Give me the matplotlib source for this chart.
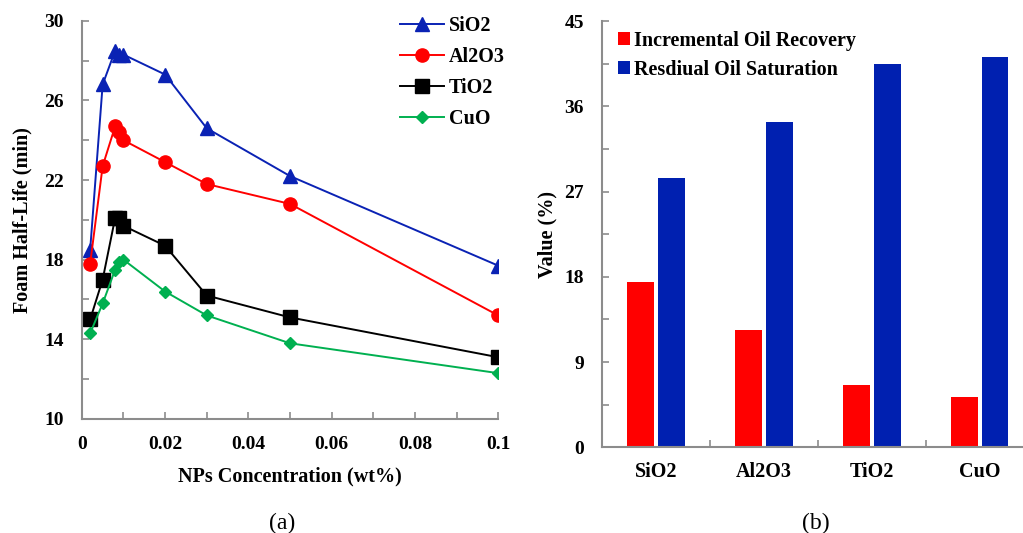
import numpy as np
import matplotlib.pyplot as plt
from matplotlib.ticker import MultipleLocator, FuncFormatter

plt.rcParams['font.family'] = 'Liberation Serif'
plt.rcParams['font.weight'] = 'bold'

# foam half-life vs nanoparticle concentration
conc = [0.002, 0.005, 0.008, 0.009, 0.01, 0.02, 0.03, 0.05, 0.1]
sio2 = [18.5, 26.8, 28.5, 28.3, 28.3, 27.3, 24.6, 22.2, 17.7]
al2o3 = [17.8, 22.7, 24.7, 24.4, 24.0, 22.9, 21.8, 20.8, 15.2]
tio2 = [15.0, 17.0, 20.1, 20.1, 19.7, 18.7, 16.2, 15.1, 13.1]
cuo = [14.3, 15.8, 17.5, 17.9, 18.0, 16.4, 15.2, 13.8, 12.3]

# oil recovery results
nps = ['SiO2', 'Al2O3', 'TiO2', 'CuO']
incremental = [17.5, 12.4, 6.6, 5.3]
residual = [28.4, 34.4, 40.5, 41.2]

spine_col = '#8c8c8c'
blue = '#0a22b4'
red = '#ff0000'
green = '#00b050'

fig = plt.figure(figsize=(10.23, 5.33), dpi=100)

def style(ax):
    for s in ['top', 'right']:
        ax.spines[s].set_visible(False)
    for s in ['left', 'bottom']:
        ax.spines[s].set_color(spine_col)
        ax.spines[s].set_linewidth(1.5)
    ax.tick_params(which='both', direction='in', color=spine_col, width=1.2,
                   length=5, labelsize=14)
    ax.tick_params(axis='y', pad=13)
    ax.tick_params(axis='x', pad=12)

# (a)
ax1 = fig.add_axes([0.080, 0.214, 0.407, 0.747])
ax1.plot(conc, sio2, '-^', color=blue, ms=9.5, lw=1.4, label='SiO2')
ax1.plot(conc, al2o3, '-o', color=red, ms=9.5, lw=1.4, label='Al2O3')
ax1.plot(conc, tio2, '-s', color='black', ms=9.5, lw=1.4, label='TiO2')
ax1.plot(conc, cuo, '-D', color=green, ms=6.5, lw=1.4, label='CuO')
ax1.set_xlim(0, 0.1)
ax1.set_ylim(10, 30)
ax1.xaxis.set_major_locator(MultipleLocator(0.01))
ax1.yaxis.set_major_locator(MultipleLocator(2))
ax1.xaxis.set_major_formatter(FuncFormatter(
    lambda v, p: ('%g' % round(v, 3)) if round(v * 100) % 2 == 0 else ''))
ax1.yaxis.set_major_formatter(FuncFormatter(
    lambda v, p: '%d' % v if round(v) % 4 == 2 else ''))
style(ax1)
ax1.set_xlabel('NPs Concentration (wt%)', fontsize=14.5, fontweight='bold', labelpad=10)
ax1.set_ylabel('Foam Half-Life (min)', fontsize=14.5, fontweight='bold', labelpad=8)
ax1.legend(loc='upper right', bbox_to_anchor=(1.06, 1.058), frameon=False,
           handlelength=2.2, labelspacing=0.55, handletextpad=0.25,
           prop={'weight': 'bold', 'size': 14.5})

# (b)
ax2 = fig.add_axes([0.5885, 0.161, 0.422, 0.799])
x = np.arange(len(nps))
w = 0.245
ax2.bar(x - 0.143, incremental, w, color=red, label='Incremental Oil Recovery')
ax2.bar(x + 0.143, residual, w, color='#0020b0', label='Resdiual Oil Saturation')
ax2.set_xlim(-0.5, 3.5)
ax2.set_ylim(0, 45)
ax2.yaxis.set_major_locator(MultipleLocator(4.5))
ax2.yaxis.set_major_formatter(FuncFormatter(
    lambda v, p: '%d' % round(v) if round(v / 4.5) % 2 == 0 else ''))
ax2.set_xticks(x + 0.5)
ax2.set_xticklabels([])
ax2.set_xticks(x, minor=True)
ax2.set_xticklabels(nps, minor=True)
style(ax2)
ax2.tick_params(axis='x', which='minor', length=0, pad=11, labelsize=14.5)
ax2.set_ylabel('Value (%)', fontsize=14.5, fontweight='bold', labelpad=5)
ax2.legend(loc='upper left', bbox_to_anchor=(-0.005, 1.02), frameon=False,
           handlelength=0.6, handleheight=0.6, handletextpad=0.2, labelspacing=0.45,
           prop={'weight': 'bold', 'size': 14.5})

fig.text(0.276, 0.008, '(a)', fontsize=17, fontweight='normal', ha='center')
fig.text(0.797, 0.008, '(b)', fontsize=17, fontweight='normal', ha='center')

fig.savefig('out.png', dpi=100)
